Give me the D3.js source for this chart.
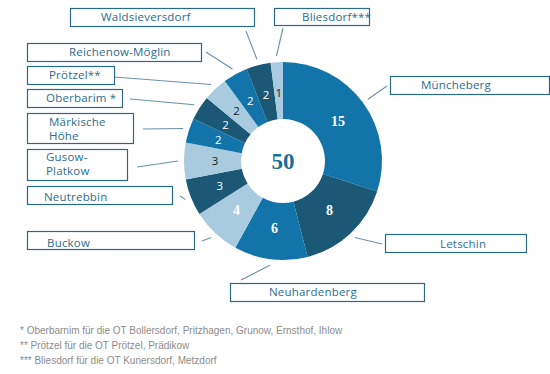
<!DOCTYPE html>
<html><head><meta charset="utf-8">
<script src="https://cdn.jsdelivr.net/npm/d3@7"></script>
<style>
html,body{margin:0;padding:0;background:#fff;}
svg{display:block;}
</style></head>
<body>
<script>
// ---- data ----
const categories = ["Müncheberg","Letschin","Neuhardenberg","Buckow","Neutrebbin","Gusow-Platkow","Märkische Höhe","Oberbarim *","Prötzel**","Reichenow-Möglin","Waldsieversdorf","Bliesdorf***"];
const values = [15, 8, 6, 4, 3, 3, 2, 2, 2, 2, 2, 1];
const total = 50;
const footnotes = [
  "* Oberbarnim für die OT Bollersdorf, Pritzhagen, Grunow, Ernsthof, Ihlow",
  "** Prötzel für die OT Prötzel, Prädikow",
  "*** Bliesdorf für die OT Kunersdorf, Metzdorf"
];

// ---- style / layout ----
const W = 550, H = 374;
const cx = 283, cy = 161, rOuter = 99, rInner = 42;
const MID = "#1274a8", DARK = "#1b5876", LIGHT = "#a8cbe0";
const shade = [MID, DARK, MID, LIGHT, DARK, LIGHT, MID, DARK, LIGHT, MID, DARK, LIGHT];
// label boxes: [x0,y0,x1,y1], text x, text baselines, leader outer end
const boxes = [
  {b:[390,76,549,94], tx:421, ty:[89], end:[387,86]},
  {b:[385,234,526,252], tx:440, ty:[248], end:[382,244]},
  {b:[230,283,424,301], tx:269, ty:[296], end:[241,280]},
  {b:[27,231,194,249], tx:47, ty:[247], end:[202,241]},
  {b:[27,186,172,204], tx:44, ty:[201], end:[180,196]},
  {b:[27,149,127,180], tx:46, ty:[161,175], lines:["Gusow-","Platkow"], end:[137,167]},
  {b:[27,113,133,143], tx:49, ty:[126,140], lines:["Märkische","Höhe"], end:[143,129]},
  {b:[27,89,122,107], tx:46, ty:[102], end:[130,99]},
  {b:[27,66,114,84], tx:49, ty:[79], end:[114,77]},
  {b:[27,43,201,61], tx:69, ty:[56], end:[206,52]},
  {b:[70,8,254,26], tx:101, ty:[21], end:[246,31]},
  {b:[274,8,369,25], tx:302, ty:[21], end:[283,28]}
];

const svg = d3.select("body").append("svg").attr("width", W).attr("height", H);

const pie = d3.pie().sort(null).value(d => d)(values);
const arc = d3.arc().innerRadius(rInner).outerRadius(rOuter);
const labelArc = d3.arc().innerRadius(68).outerRadius(68);

const g = svg.append("g").attr("transform", `translate(${cx},${cy})`);
g.selectAll("path.slice").data(pie).join("path")
  .attr("class","slice")
  .attr("d", arc)
  .attr("fill", (d,i) => shade[i]);

// value labels
g.selectAll("text.val").data(pie).join("text")
  .attr("class","val")
  .attr("transform", d => { const [x,y] = labelArc.centroid(d); return `translate(${x},${y})`; })
  .attr("text-anchor","middle")
  .attr("dy","0.35em")
  .attr("font-family", d => d.data >= 4 ? "'Liberation Serif', serif" : "'Open Sans', sans-serif")
  .attr("font-weight", d => d.data >= 4 ? "bold" : "normal")
  .attr("font-size", d => d.data >= 4 ? "14px" : "11.5px")
  .attr("fill", (d,i) => shade[i] === LIGHT && d.data < 4 ? "#1a1a1a" : "#fff")
  .text(d => d.data);

// center total
g.append("text").attr("text-anchor","middle").attr("dy","0.35em")
  .attr("font-family","'Liberation Serif', serif").attr("font-weight","bold")
  .attr("font-size","23px").attr("fill","#1a6e9d").text(total);

// leader lines
const leadR = 105;
pie.forEach((d,i) => {
  const a = (d.startAngle + d.endAngle)/2;
  const x1 = cx + leadR*Math.sin(a), y1 = cy - leadR*Math.cos(a);
  svg.append("line").attr("x1",x1).attr("y1",y1)
    .attr("x2",boxes[i].end[0]).attr("y2",boxes[i].end[1])
    .attr("stroke","#6b91a6").attr("stroke-width",1.1);
});

// boxes and names
boxes.forEach((bx,i) => {
  const [x0,y0,x1,y1] = bx.b;
  svg.append("rect").attr("x",x0+0.5).attr("y",y0+0.5)
    .attr("width",x1-x0).attr("height",y1-y0)
    .attr("fill","#fff").attr("stroke","#2b6a84").attr("stroke-width",1.2);
  const lines = bx.lines || [categories[i]];
  lines.forEach((t,j) => {
    svg.append("text").attr("x",bx.tx).attr("y",bx.ty[j])
      .attr("font-family","'Open Sans', sans-serif").attr("font-size","11.5px")
      .attr("letter-spacing","0.2px")
      .attr("fill","#2d6e8e").text(t);
  });
});

// footnotes
svg.selectAll("text.fn").data(footnotes).join("text")
  .attr("class","fn")
  .attr("x",20).attr("y",(d,i) => 334 + i*15)
  .attr("font-family","'Liberation Sans', Arial, sans-serif")
  .attr("font-size","10px").attr("fill","#8c8c8c")
  .text(d => d);
</script>
</body></html>
